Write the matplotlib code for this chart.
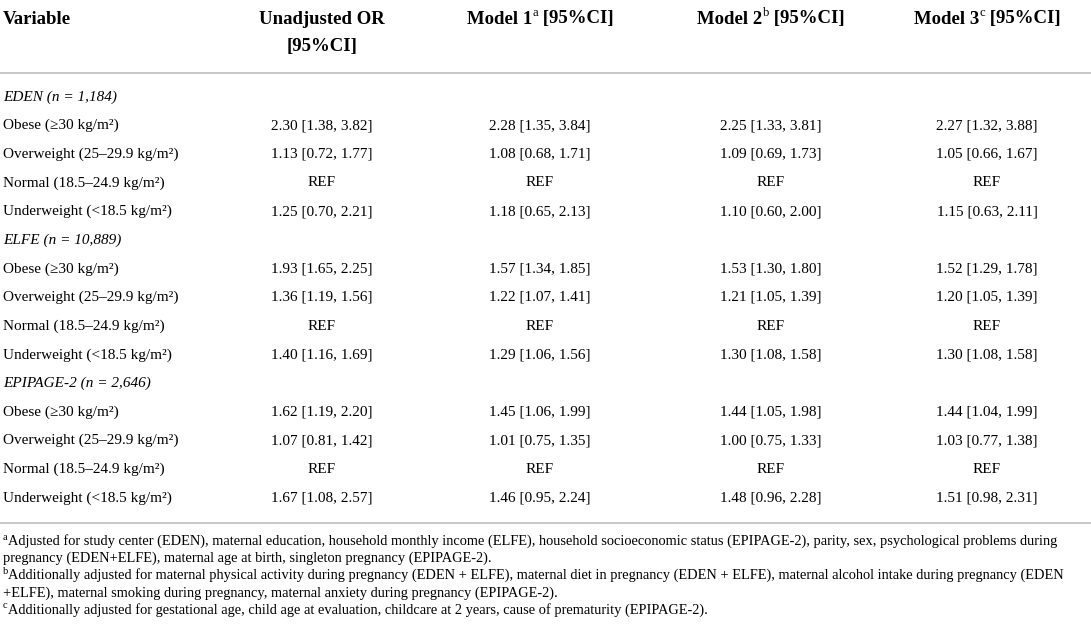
import matplotlib
matplotlib.use("Agg")
import matplotlib.pyplot as plt

plt.rcParams['font.family'] = ['Liberation Serif', 'DejaVu Serif']

# table content
col_titles = [("Model 1", "a"), ("Model 2", "b"), ("Model 3", "c")]
cohorts = ["EDEN (n = 1,184)", "ELFE (n = 10,889)", "EPIPAGE-2 (n = 2,646)"]
bmi_cats = ["Obese (\u226530 kg/m\u00b2)", "Overweight (25\u201329.9 kg/m\u00b2)",
            "Normal (18.5\u201324.9 kg/m\u00b2)", "Underweight (<18.5 kg/m\u00b2)"]

# (OR, lower, upper) per cohort x category; None = reference
unadjusted = [(2.30, 1.38, 3.82), (1.13, 0.72, 1.77), None, (1.25, 0.70, 2.21),
              (1.93, 1.65, 2.25), (1.36, 1.19, 1.56), None, (1.40, 1.16, 1.69),
              (1.62, 1.19, 2.20), (1.07, 0.81, 1.42), None, (1.67, 1.08, 2.57)]
model1 = [(2.28, 1.35, 3.84), (1.08, 0.68, 1.71), None, (1.18, 0.65, 2.13),
          (1.57, 1.34, 1.85), (1.22, 1.07, 1.41), None, (1.29, 1.06, 1.56),
          (1.45, 1.06, 1.99), (1.01, 0.75, 1.35), None, (1.46, 0.95, 2.24)]
model2 = [(2.25, 1.33, 3.81), (1.09, 0.69, 1.73), None, (1.10, 0.60, 2.00),
          (1.53, 1.30, 1.80), (1.21, 1.05, 1.39), None, (1.30, 1.08, 1.58),
          (1.44, 1.05, 1.98), (1.00, 0.75, 1.33), None, (1.48, 0.96, 2.28)]
model3 = [(2.27, 1.32, 3.88), (1.05, 0.66, 1.67), None, (1.15, 0.63, 2.11),
          (1.52, 1.29, 1.78), (1.20, 1.05, 1.39), None, (1.30, 1.08, 1.58),
          (1.44, 1.04, 1.99), (1.03, 0.77, 1.38), None, (1.51, 0.98, 2.31)]

# (superscript, text) per footnote line
footnotes = [
    ("a", "Adjusted for study center (EDEN), maternal education, household monthly income (ELFE), household socioeconomic status (EPIPAGE-2), parity, sex, psychological problems during"),
    ("", "pregnancy (EDEN+ELFE), maternal age at birth, singleton pregnancy (EPIPAGE-2)."),
    ("b", "Additionally adjusted for maternal physical activity during pregnancy (EDEN + ELFE), maternal diet in pregnancy (EDEN + ELFE), maternal alcohol intake during pregnancy (EDEN"),
    ("", "+ELFE), maternal smoking during pregnancy, maternal anxiety during pregnancy (EPIPAGE-2)."),
    ("c", "Additionally adjusted for gestational age, child age at evaluation, childcare at 2 years, cause of prematurity (EPIPAGE-2)."),
]


def fmt(v):
    if v is None:
        return "REF"
    return "%.2f [%.2f, %.2f]" % v


W, H = 1091, 632
fig = plt.figure(figsize=(W / 100, H / 100), dpi=100)
ax = fig.add_axes([0, 0, 1, 1])
ax.set_xlim(0, W)
ax.set_ylim(H, 0)
ax.axis('off')
r = fig.canvas.get_renderer()


def width_px(t):
    bb = t.get_window_extent(renderer=r)
    return bb.width


body = 11.0
head = 13.5
col_x = [322, 540, 771, 987]
rule_color = '#c8c8c8'

# header
ax.text(3, 19, "Variable", fontsize=head, fontweight='bold', va='center', ha='left')
ax.text(col_x[0], 19, "Unadjusted OR", fontsize=head, fontweight='bold', va='center', ha='center')
ax.text(col_x[0], 46, "[95%CI]", fontsize=head, fontweight='bold', va='center', ha='center')
for x, (name, sup) in zip(col_x[1:], col_titles):
    t1 = ax.text(0, 19, name, fontsize=head, fontweight='bold', va='center', ha='left')
    t2 = ax.text(0, 13, sup, fontsize=head * 0.68, va='center', ha='left')
    t3 = ax.text(0, 19, " [95%CI]", fontsize=head, fontweight='bold', va='center', ha='left')
    w1, w2, w3 = width_px(t1), width_px(t2), width_px(t3)
    x0 = x - (w1 + w2 + w3) / 2
    t1.set_x(x0)
    t2.set_x(x0 + w1 + 0.5)
    t3.set_x(x0 + w1 + w2 + 0.5)

ax.axhline(73, color=rule_color, lw=1.4)

columns = [unadjusted, model1, model2, model3]
row_h = 28.64
y = 97
k = 0
for cohort in cohorts:
    ax.text(3, y, cohort, fontsize=body, style='italic', va='center', ha='left')
    y += row_h
    for cat in bmi_cats:
        ax.text(3, y, cat, fontsize=body, va='center', ha='left')
        for x, col in zip(col_x, columns):
            ax.text(x, y, fmt(col[k]), fontsize=body, va='center', ha='center')
        k += 1
        y += row_h

ax.axhline(523, color=rule_color, lw=1.4)

foot = 10.4
fy = [541, 558, 575, 593, 610]
for yy, (sup, line) in zip(fy, footnotes):
    x = 3
    if sup:
        ax.text(3, yy - 4, sup, fontsize=foot * 0.72, va='center', ha='left')
        x = 8.5
    ax.text(x, yy, line, fontsize=foot, va='center', ha='left')

fig.savefig("out.png", dpi=100)
